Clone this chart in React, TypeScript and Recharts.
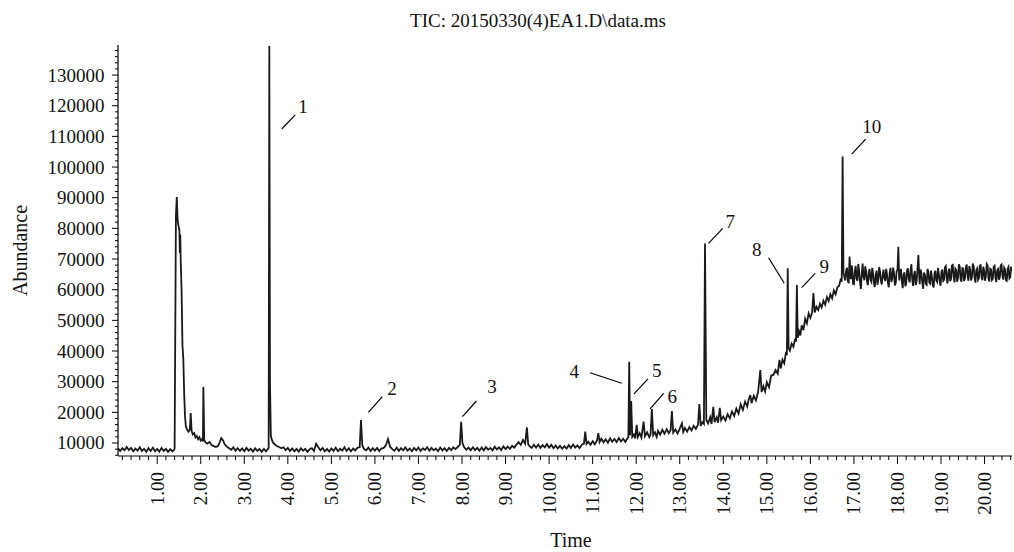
import React from 'react';
import { LineChart, Line, XAxis, YAxis, ReferenceLine, ReferenceDot } from 'recharts';

const FONT = '"Liberation Serif", "Times New Roman", Times, serif';

const TITLE = 'TIC: 20150330(4)EA1.D\\data.ms';
const X_LABEL = 'Time';
const Y_LABEL = 'Abundance';

const TIME_DOMAIN: [number, number] = [0.1, 20.63];
const ABUNDANCE_DOMAIN: [number, number] = [5760, 139800];

const TIME_MAJOR_TICKS = [1, 2, 3, 4, 5, 6, 7, 8, 9, 10, 11, 12, 13, 14, 15, 16, 17, 18, 19, 20];
const TIME_MINOR_STEP = 0.2;
const ABUNDANCE_MAJOR_TICKS = [10000, 20000, 30000, 40000, 50000, 60000, 70000, 80000, 90000, 100000, 110000, 120000, 130000];
const ABUNDANCE_MINOR_STEP = 2000;

// [time (min), abundance]
const runStart: [number, number][] = [
  [0.10, 8300], [0.15, 7400], [0.20, 8300], [0.25, 7600], [0.30, 8700], [0.35, 7700], [0.40, 8400], [0.45, 7300],
  [0.50, 8200], [0.55, 7500], [0.60, 8600], [0.65, 7400], [0.70, 8100], [0.75, 7100], [0.80, 8300], [0.85, 7400],
  [0.90, 8500], [0.95, 7300], [1.00, 8100], [1.05, 7200], [1.10, 8400], [1.15, 7400], [1.20, 8100], [1.25, 7100],
  [1.30, 8000], [1.35, 7300], [1.38, 7600], [1.40, 8200], [1.43, 84000], [1.45, 90200], [1.47, 82500], [1.49, 80800],
  [1.51, 79500], [1.52, 72000], [1.53, 78000], [1.54, 69500], [1.56, 60000], [1.58, 42000], [1.60, 37500], [1.62, 26000],
  [1.64, 18500], [1.66, 15300], [1.69, 14200], [1.72, 13700], [1.75, 14500], [1.77, 19800], [1.79, 13900], [1.82, 12800],
  [1.85, 13200], [1.88, 11800], [1.91, 12300], [1.94, 11200], [1.97, 11900], [2.00, 10800], [2.03, 11300], [2.05, 10500],
  [2.06, 28300], [2.08, 11000], [2.11, 10200], [2.15, 9800], [2.20, 10300], [2.25, 9300], [2.30, 9000], [2.35, 8700],
  [2.40, 9100], [2.44, 10400], [2.47, 11600], [2.51, 10900], [2.55, 9600], [2.60, 8800], [2.65, 8300], [2.70, 7800],
  [2.75, 8600], [2.80, 7500], [2.85, 8300], [2.90, 7400], [2.95, 8200], [3.00, 7300], [3.05, 8400], [3.10, 7500],
  [3.15, 8100], [3.20, 7200], [3.25, 8300], [3.30, 7400], [3.35, 8000], [3.40, 7100], [3.45, 8100], [3.50, 7300],
  [3.54, 8000],
];

const runEarly: [number, number][] = [
  [3.56, 8400], [3.575, 139500], [3.59, 30000], [3.61, 12500], [3.63, 11200], [3.66, 10100], [3.70, 9600], [3.75, 9000],
  [3.80, 8700], [3.85, 8300], [3.90, 8600], [3.95, 7700], [4.00, 8400], [4.05, 7400], [4.10, 8200], [4.15, 7300],
  [4.20, 8100], [4.25, 7200], [4.30, 8300], [4.35, 7500], [4.40, 8100], [4.45, 7100], [4.50, 8000], [4.55, 8300],
  [4.60, 7400], [4.65, 9800], [4.70, 8600], [4.75, 7600], [4.80, 8400], [4.85, 7300], [4.90, 8100], [4.95, 7200],
  [5.00, 8200], [5.05, 7400], [5.10, 8500], [5.15, 7300], [5.20, 8100], [5.25, 7500], [5.30, 8600], [5.35, 7400],
  [5.40, 8300], [5.45, 7300], [5.50, 8200], [5.55, 7600], [5.60, 8500], [5.65, 8600], [5.68, 17500], [5.71, 9300],
  [5.75, 8000], [5.80, 7600], [5.85, 8500], [5.90, 7400], [5.95, 8300], [6.00, 7500], [6.05, 8400], [6.10, 7400],
  [6.15, 8200], [6.20, 8400], [6.25, 9200], [6.30, 11300], [6.35, 8700], [6.40, 8000], [6.45, 7500], [6.50, 8500],
  [6.55, 7400], [6.60, 8300], [6.65, 7600], [6.70, 8600], [6.75, 7500], [6.80, 8200], [6.85, 7300], [6.90, 8400],
  [6.95, 7600], [7.00, 8500], [7.05, 7400], [7.10, 8300], [7.15, 7700], [7.20, 8600], [7.25, 7500], [7.30, 8400],
  [7.35, 7600], [7.40, 8200], [7.45, 7300], [7.50, 8500], [7.55, 7600], [7.60, 8300], [7.65, 7400], [7.70, 8400],
  [7.75, 7700], [7.80, 8600], [7.85, 8000], [7.90, 8700], [7.95, 9400], [7.98, 16900], [8.01, 10000], [8.05, 8600],
  [8.10, 7800], [8.15, 8500],
];

const runMiddle: [number, number][] = [
  [8.20, 7600], [8.25, 8600], [8.30, 7700], [8.35, 8400], [8.40, 7500], [8.45, 8500], [8.50, 7600], [8.55, 8700],
  [8.60, 7800], [8.65, 8400], [8.70, 7600], [8.75, 8800], [8.80, 7900], [8.85, 8600], [8.90, 7700], [8.95, 8900],
  [9.00, 8000], [9.05, 8800], [9.10, 8100], [9.15, 9100], [9.20, 8500], [9.25, 9500], [9.30, 10300], [9.35, 9400],
  [9.40, 11000], [9.45, 9800], [9.49, 15100], [9.52, 9600], [9.55, 9000], [9.60, 8400], [9.65, 9400], [9.70, 8500],
  [9.75, 9500], [9.80, 8400], [9.85, 9300], [9.90, 8600], [9.95, 9600], [10.00, 8500], [10.05, 9400], [10.10, 8300],
  [10.15, 9200], [10.20, 8200], [10.25, 9100], [10.30, 8100], [10.35, 9000], [10.40, 8200], [10.45, 9300], [10.50, 8400],
  [10.55, 9500], [10.60, 8500], [10.65, 9200], [10.70, 8300], [10.75, 9400], [10.80, 9800], [10.83, 13700], [10.86, 9700],
  [10.90, 10400], [10.95, 9400], [11.00, 10600], [11.05, 9600], [11.10, 10800], [11.13, 13200], [11.16, 10300], [11.20, 11400],
  [11.25, 10200], [11.30, 11200], [11.35, 10100], [11.40, 11500], [11.45, 10400], [11.50, 11300], [11.55, 10300], [11.60, 11600],
  [11.65, 10500], [11.70, 11400], [11.75, 10400], [11.80, 11500],
];

const runRamp: [number, number][] = [
  [11.82, 11800], [11.84, 36500], [11.86, 12500], [11.885, 23700], [11.91, 12000], [11.95, 12800], [11.98, 11500], [12.01, 15900],
  [12.04, 12000], [12.08, 13200], [12.12, 11800], [12.17, 17000], [12.20, 12200], [12.25, 13500], [12.30, 11900], [12.33, 12800],
  [12.36, 21100], [12.39, 12600], [12.43, 13500], [12.47, 12000], [12.50, 14000], [12.55, 12700], [12.60, 14300], [12.65, 13000],
  [12.70, 14500], [12.75, 13200], [12.79, 14200], [12.82, 20400], [12.85, 13400], [12.90, 14400], [12.95, 13100], [13.00, 14700],
  [13.05, 16400], [13.08, 13600], [13.12, 14900], [13.17, 13700], [13.22, 15200], [13.27, 14100], [13.32, 15600], [13.37, 14600],
  [13.42, 16000], [13.45, 22700], [13.48, 15600], [13.52, 16800], [13.555, 16200], [13.58, 75100], [13.61, 17500], [13.65, 16400],
  [13.70, 18400], [13.73, 16200], [13.77, 21800], [13.80, 16800], [13.85, 18400], [13.88, 16600], [13.92, 21500], [13.95, 17400],
  [14.00, 18600], [14.05, 17300], [14.10, 19400], [14.15, 18100], [14.20, 20300], [14.25, 18800], [14.30, 21200], [14.35, 19600],
  [14.40, 22600], [14.45, 20800], [14.50, 23500], [14.55, 21900], [14.58, 24000], [14.62, 25600], [14.65, 23000], [14.70, 25400],
  [14.75, 23900], [14.80, 26700], [14.85, 33800], [14.88, 26600], [14.92, 28500], [14.96, 26800], [15.00, 29800], [15.05, 28200],
  [15.10, 32000], [15.15, 32200], [15.20, 33800], [15.25, 32600], [15.29, 37100], [15.32, 34300], [15.36, 37200], [15.40, 36000],
  [15.44, 39700], [15.46, 38600], [15.48, 67000], [15.50, 41000], [15.53, 40100], [15.57, 42400], [15.61, 41400], [15.65, 44000],
  [15.67, 43000], [15.69, 61500], [15.71, 44300], [15.74, 46400], [15.77, 45100], [15.80, 48400], [15.84, 46800], [15.88, 50500],
  [15.92, 49000], [15.96, 52300], [16.00, 50800], [16.04, 52500], [16.07, 58900], [16.10, 52600], [16.14, 54400], [16.18, 53400],
  [16.22, 55400], [16.26, 54200], [16.30, 56400], [16.34, 55100], [16.38, 57600], [16.42, 56300], [16.46, 58500], [16.50, 57200],
  [16.54, 59800], [16.58, 58500], [16.62, 60800], [16.66, 61300], [16.70, 63700], [16.72, 62600], [16.74, 103400], [16.76, 65500],
];

const runPlateau: [number, number][] = [
  [16.80, 63000], [16.82, 66100], [16.84, 67200], [16.86, 62800], [16.88, 62100], [16.90, 70800], [16.93, 63400], [16.95, 67900],
  [16.96, 66900], [16.98, 61900], [17.00, 61800], [17.02, 66000], [17.04, 67800], [17.06, 63600], [17.08, 62900], [17.10, 68400],
  [17.12, 66100], [17.14, 62400], [17.16, 60200], [17.18, 65200], [17.20, 68500], [17.22, 64300], [17.24, 63100], [17.26, 67600],
  [17.28, 65900], [17.30, 62700], [17.32, 61500], [17.34, 65800], [17.36, 66700], [17.38, 63200], [17.40, 62600], [17.42, 67100],
  [17.44, 65300], [17.46, 62000], [17.48, 60900], [17.50, 64800], [17.52, 66200], [17.54, 61600], [17.56, 63300], [17.58, 67400],
  [17.60, 65800], [17.62, 62900], [17.64, 61700], [17.66, 64700], [17.68, 66500], [17.70, 63800], [17.72, 62800], [17.74, 66800],
  [17.76, 64900], [17.78, 62300], [17.80, 60800], [17.82, 65400], [17.84, 67100], [17.86, 62500], [17.88, 63500], [17.90, 67200],
  [17.92, 65600], [17.94, 61400], [17.96, 62200], [17.98, 65900], [18.00, 66400], [18.02, 74000], [18.04, 63000], [18.06, 65200],
  [18.08, 66800], [18.10, 62600], [18.12, 60500], [18.14, 64900], [18.16, 65700], [18.18, 61100], [18.20, 61900], [18.22, 66300],
  [18.24, 67000], [18.26, 63400], [18.28, 62400], [18.30, 66200], [18.32, 68300], [18.34, 63100], [18.36, 61200], [18.38, 64800],
  [18.40, 66100], [18.42, 61500], [18.44, 62700], [18.46, 66900], [18.48, 71300], [18.50, 64100], [18.51, 61800], [18.53, 66600],
  [18.55, 65400], [18.57, 62200], [18.59, 60300], [18.61, 65600], [18.63, 64800], [18.65, 61900], [18.67, 61600], [18.69, 66700],
  [18.71, 65900], [18.73, 62300], [18.75, 62000], [18.77, 66200], [18.79, 64300], [18.81, 61500], [18.83, 60700], [18.85, 65300],
  [18.87, 66200], [18.89, 63000], [18.91, 62500], [18.93, 67100], [18.95, 65100], [18.97, 62600], [18.99, 61300], [19.01, 65800],
  [19.03, 66600], [19.05, 62900], [19.07, 63200], [19.09, 67300], [19.11, 67700], [19.13, 63600], [19.15, 62000], [19.17, 65900],
  [19.19, 66900], [19.21, 62800], [19.23, 63500], [19.25, 67900], [19.27, 68100], [19.29, 64200], [19.31, 62400], [19.33, 66800],
  [19.35, 66300], [19.37, 62600], [19.39, 63900], [19.41, 68300], [19.43, 67500], [19.45, 63400], [19.47, 62600], [19.49, 67000],
  [19.51, 66800], [19.53, 62800], [19.55, 63700], [19.57, 67300], [19.59, 68200], [19.61, 64400], [19.63, 62900], [19.65, 67700],
  [19.67, 66400], [19.69, 63000], [19.71, 64200], [19.73, 68500], [19.75, 67600], [19.77, 63900], [19.79, 62300], [19.81, 66400],
  [19.83, 66900], [19.85, 63200], [19.87, 63800], [19.89, 67800], [19.91, 68000], [19.93, 64100], [19.95, 63100], [19.97, 67500],
  [19.99, 66200], [20.01, 62900], [20.03, 64300], [20.05, 68400], [20.07, 67900], [20.09, 63600], [20.11, 62700], [20.13, 66800],
  [20.15, 66500], [20.17, 63200], [20.19, 63600], [20.21, 67500], [20.23, 67800], [20.25, 64000], [20.27, 62500], [20.29, 66300],
  [20.31, 66700], [20.33, 63300], [20.35, 64000], [20.37, 67900], [20.39, 68200], [20.41, 64500], [20.43, 63300], [20.45, 67200],
  [20.47, 66600], [20.49, 63100], [20.51, 62900], [20.53, 66800], [20.55, 67400], [20.57, 63700], [20.59, 64100], [20.61, 67500],
  [20.63, 66000],
];

// Peak annotations: number, label position, leader line (data coordinates)
const PEAK_NUMBERS = ['1', '2', '3', '4', '5', '6', '7', '8', '9', '10'];
const PEAK_LABEL_AT: [number, number][] = [
  [4.35, 119600], [6.39, 27800], [8.69, 28400], [10.58, 33300], [12.47, 33500],
  [12.83, 25300], [14.16, 82200], [14.77, 73200], [16.32, 67500], [17.41, 113100],
];
const LEADER_START: [number, number][] = [
  [3.86, 112400], [5.85, 20000], [8.01, 18600], [11.67, 29500], [11.95, 26000],
  [12.32, 21100], [13.66, 75100], [15.40, 62100], [15.80, 60700], [16.95, 104200],
];
const LEADER_END: [number, number][] = [
  [4.17, 117000], [6.17, 25100], [8.33, 23700], [10.94, 32900], [12.27, 30900],
  [12.63, 26200], [13.99, 80000], [15.04, 70400], [16.11, 65300], [17.27, 109100],
];

const data = [...runStart, ...runEarly, ...runMiddle, ...runRamp, ...runPlateau].map(([time, abundance]) => ({ time, abundance }));

const timeTicks: number[] = [];
for (let v = TIME_MINOR_STEP; v <= TIME_DOMAIN[1] + 1e-9; v += TIME_MINOR_STEP) timeTicks.push(Math.round(v * 100) / 100);
const abundanceTicks: number[] = [];
for (let v = 6000; v <= ABUNDANCE_DOMAIN[1]; v += ABUNDANCE_MINOR_STEP) abundanceTicks.push(v);

const isMajorTime = (v: number) => TIME_MAJOR_TICKS.some((m) => Math.abs(m - v) < 1e-6);
const isMajorAbundance = (v: number) => ABUNDANCE_MAJOR_TICKS.includes(v);

const TimeTick = (props: any) => {
  const { x, y, payload } = props;
  const v = payload.value as number;
  const major = isMajorTime(v);
  const ty = y + 16;
  return (
    <g>
      <line x1={x} x2={x} y1={y} y2={y + (major ? 8 : 4)} stroke="#000" strokeWidth={1} />
      {major && (
        <text x={x} y={ty} transform={`rotate(-90 ${x} ${ty})`} textAnchor="end" dominantBaseline="central"
          fontFamily={FONT} fontSize={19} fill="#111">{v.toFixed(2)}</text>
      )}
    </g>
  );
};

const AbundanceTick = (props: any) => {
  const { x, y, payload } = props;
  const v = payload.value as number;
  const major = isMajorAbundance(v);
  return (
    <g>
      <line x1={x - (major ? 6 : 3)} x2={x} y1={y} y2={y} stroke="#000" strokeWidth={1} />
      {major && (
        <text x={x - 13.5} y={y} textAnchor="end" dominantBaseline="central" fontFamily={FONT} fontSize={19} fill="#111">{v}</text>
      )}
    </g>
  );
};

const renderYLabel = (p: any) => {
  const vb = p.viewBox || { x: 0, y: 45, width: 118, height: 411 };
  const cx = vb.x + 19.5;
  const cy = vb.y + vb.height / 2;
  return (
    <text x={cx} y={cy} transform={`rotate(-90 ${cx} ${cy})`} textAnchor="middle" dominantBaseline="central"
      fontFamily={FONT} fontSize={20} fill="#111">{Y_LABEL}</text>
  );
};

const renderXLabel = (p: any) => {
  const vb = p.viewBox || { x: 118, y: 456, width: 894, height: 80 };
  return (
    <text x={vb.x + vb.width / 2 + 6} y={vb.y + vb.height + 11} textAnchor="middle" fontFamily={FONT} fontSize={20} fill="#111">{X_LABEL}</text>
  );
};

const peakLabel = (text: string) => (p: any) => {
  const vb = p.viewBox || { x: 0, y: 0, width: 0, height: 0 };
  return (
    <text x={vb.x + vb.width / 2} y={vb.y + vb.height / 2} textAnchor="middle" dominantBaseline="central"
      fontFamily={FONT} fontSize={19} fill="#111">{text}</text>
  );
};

export default function App() {
  return (
    <div style={{ position: 'absolute', left: 0, top: 0, width: 1014, height: 552, background: '#fff' }}>
      <LineChart width={1014} height={552} data={data} margin={{ top: 45, right: 2, bottom: 16, left: 0 }}>
        <XAxis type="number" dataKey="time" domain={TIME_DOMAIN} ticks={timeTicks} interval={0} allowDataOverflow
          tick={TimeTick} tickLine={false} tickSize={0} tickMargin={0} height={80}
          axisLine={{ stroke: '#000', strokeWidth: 1.2 }} label={renderXLabel} />
        <YAxis type="number" domain={ABUNDANCE_DOMAIN} ticks={abundanceTicks} interval={0} allowDataOverflow
          tick={AbundanceTick} tickLine={false} tickSize={0} tickMargin={0} width={118}
          axisLine={{ stroke: '#000', strokeWidth: 1.2 }} label={renderYLabel} />
        <Line type="linear" dataKey="abundance" stroke="#1a1a1a" strokeWidth={1.8} dot={false} activeDot={false}
          isAnimationActive={false} />
        {LEADER_START.map((s, i) => (
          <ReferenceLine key={`lead-${i}`} segment={[{ x: s[0], y: s[1] }, { x: LEADER_END[i][0], y: LEADER_END[i][1] }]}
            stroke="#000" strokeWidth={1.2} ifOverflow="visible" />
        ))}
        {PEAK_LABEL_AT.map((p, i) => (
          <ReferenceDot key={`lab-${i}`} x={p[0]} y={p[1]} r={1} fill="none" stroke="none" ifOverflow="visible"
            label={peakLabel(PEAK_NUMBERS[i])} />
        ))}
      </LineChart>
      <div style={{ position: 'absolute', left: 0, top: 11, width: 1076, textAlign: 'center', fontFamily: FONT,
        fontSize: 19, lineHeight: '19px', color: '#111', whiteSpace: 'nowrap' }}>{TITLE}</div>
    </div>
  );
}
